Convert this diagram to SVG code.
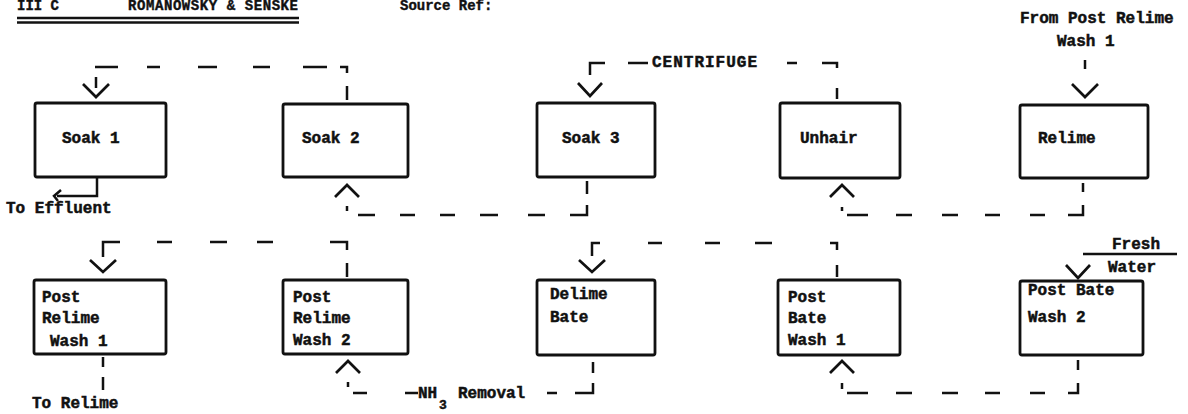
<svg xmlns="http://www.w3.org/2000/svg" width="1188" height="414" viewBox="0 0 1188 414">
<style>
.box{fill:#fff;stroke:#111;stroke-width:2.8}
.t{font-family:"Liberation Mono",monospace;font-weight:bold;font-size:16px;fill:#111;stroke:#111;stroke-width:0.5}
.h{font-family:"Liberation Mono",monospace;font-weight:bold;font-size:14px;fill:#111;stroke:#111;stroke-width:0.4}
.d{fill:none;stroke:#111;stroke-width:2.5;stroke-dasharray:17 35}
.s{fill:none;stroke:#111;stroke-width:2.5}
.ah{fill:none;stroke:#111;stroke-width:2.7;stroke-linejoin:miter}
</style>
<rect width="1188" height="414" fill="#fff"/>
<g id="header">
<text class="h" x="17" y="10">III C</text>
<text class="h" x="128" y="10" textLength="170">ROMANOWSKY &amp; SENSKE</text>
<text class="h" x="400" y="10">Source Ref:</text>
<line class="s" x1="17" y1="18" x2="299" y2="18"/>
<line class="s" x1="17" y1="22.5" x2="299" y2="22.5"/>
</g>
<g id="soak1"><rect class="box" x="35" y="103" width="131" height="74" rx="2"/><text class="t" x="62" y="143">Soak 1</text></g>
<g id="soak2"><rect class="box" x="283" y="104" width="125" height="73" rx="2"/><text class="t" x="302" y="143">Soak 2</text></g>
<g id="soak3"><rect class="box" x="537" y="103" width="118" height="74" rx="2"/><text class="t" x="562" y="143">Soak 3</text></g>
<g id="unhair"><rect class="box" x="780" y="103" width="120" height="75" rx="2"/><text class="t" x="800" y="143">Unhair</text></g>
<g id="relime"><rect class="box" x="1020" y="105" width="128" height="73" rx="2"/><text class="t" x="1038" y="143">Relime</text></g>
<g id="postRelimeWash1"><rect class="box" x="34" y="280" width="132" height="74" rx="2"/><text class="t" x="42" y="302">Post</text><text class="t" x="42" y="323">Relime</text><text class="t" x="50" y="346">Wash 1</text></g>
<g id="postRelimeWash2"><rect class="box" x="283" y="280" width="125" height="74" rx="2"/><text class="t" x="293" y="302">Post</text><text class="t" x="293" y="323">Relime</text><text class="t" x="293" y="345">Wash 2</text></g>
<g id="delimeBate"><rect class="box" x="537" y="280" width="118" height="75" rx="2"/><text class="t" x="550" y="299">Delime</text><text class="t" x="550" y="322">Bate</text></g>
<g id="postBateWash1"><rect class="box" x="778" y="280" width="122" height="75" rx="2"/><text class="t" x="788" y="302">Post</text><text class="t" x="788" y="323">Bate</text><text class="t" x="788" y="345">Wash 1</text></g>
<g id="postBateWash2"><rect class="box" x="1020" y="281" width="123" height="74" rx="2"/><text class="t" x="1028" y="295">Post Bate</text><text class="t" x="1028" y="322">Wash 2</text></g>
<g id="connectors">
<path class="s" d="M95,67 H118 M147,67 H160 M198,67 H217 M253,67 H270 M303,67 H327 M340,67 H347 V73 M347,86 V100"/>
<path class="s" d="M96,77 V88"/>
<path class="ah" d="M83,84 L96,97 L109,84"/>
<path class="s" d="M97,177 V196 H57"/>
<path class="s" d="M61,190 L54,196 L58,201"/>
<text class="t" x="6" y="213">To Effluent</text>
<path class="s" d="M587,181 V194 M587,205 V215 H570 M545,215 H528 M498,215 H480 M455,215 H440 M415,215 H400 M375,215 H358 M347,211 V206"/>
<path class="ah" d="M335,197 L347,185 L359,197"/>
<path class="s" d="M837,99 V88 M837,68 V63 H822 M797,63 H787 M648,63 H628 M605,63 H590 V75"/>
<text class="t" x="652" y="67" textLength="105">CENTRIFUGE</text>
<path class="ah" d="M578,83 L590,96 L602,83"/>
<path class="s" d="M1083,183 V192 M1083,205 V215 H1068 M1045,215 H1030 M1000,215 H985 M958,215 H942 M912,215 H896 M868,215 H847 M842,211 V207"/>
<path class="ah" d="M830,197 L842,185 L854,197"/>
<text class="t" x="1020" y="23">From Post Relime</text>
<text class="t" x="1057" y="46">Wash 1</text>
<path class="s" d="M1085,60 V69"/>
<path class="ah" d="M1072,84 L1085,97 L1098,84"/>
<path class="s" d="M347,277 V263 M347,250 V242 H330 M273,242 H257 M227,242 H210 M172,242 H157 M120,242 H103 V257"/>
<path class="ah" d="M90,260 L103,272 L116,260"/>
<path class="s" d="M103,357 V367 M103,377 V390"/>
<text class="t" x="32" y="408">To Relime</text>
<path class="s" d="M593,362 V373 M593,383 V393 H575 M557,393 H547 M418,393 H405 M367,393 H353 M348,387 V382"/>
<text class="t" x="418" y="398">NH</text>
<text class="t" x="439" y="409" style="font-size:13px">3</text>
<text class="t" x="458" y="398">Removal</text>
<path class="ah" d="M336,373 L348,361 L360,373"/>
<path class="s" d="M837,277 V265 M837,250 V243 H830 M772,243 H755 M720,243 H705 M662,243 H648 M600,243 H592 V256"/>
<path class="ah" d="M579,260 L592,272 L605,260"/>
<path class="s" d="M1078,360 V370 M1078,383 V393 H1068 M1045,393 H1030 M1000,393 H985 M958,393 H942 M912,393 H896 M868,393 H847 M842,389 V383"/>
<path class="ah" d="M830,373 L842,361 L854,373"/>
<path class="s" d="M1083,254 H1177"/>
<text class="t" x="1112" y="249">Fresh</text>
<text class="t" x="1108" y="272">Water</text>
<path class="ah" d="M1066,265 L1078,278 L1090,265"/>
</g>
</svg>
